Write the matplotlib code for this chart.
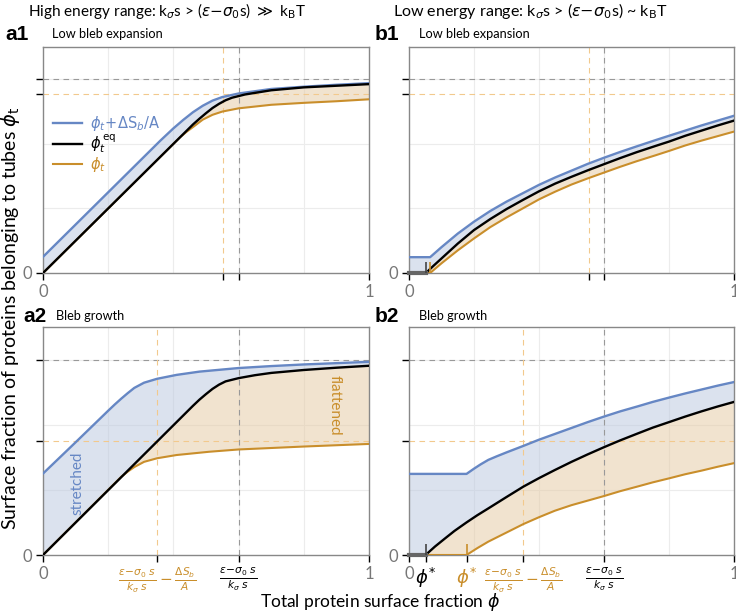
import numpy as np
import matplotlib
matplotlib.use('Agg')
import matplotlib.pyplot as plt

plt.rcParams['font.family'] = ['Lato', 'DejaVu Sans']
plt.rcParams['mathtext.fontset'] = 'dejavusans'

BLUE = '#6687c4'
ORANGE = '#c98e2b'
BLUE_FILL = '#b9c7df'
ORANGE_FILL = '#e5c9a1'
GRAY = '#888888'

# ---- data (x = total fraction phi, y = phi_t) ----
# a1: high energy, low bleb expansion
a1_blue_x = [0, 0.36, 0.40, 0.43, 0.46, 0.49, 0.52, 0.55, 0.60, 0.70, 0.80, 0.90, 1.0]
a1_blue_y = [0.05, 0.41, 0.448, 0.474, 0.498, 0.518, 0.534, 0.545, 0.556, 0.570, 0.577, 0.583, 0.588]
a1_black_x = [0, 0.46, 0.48, 0.50, 0.52, 0.54, 0.56, 0.58, 0.62, 0.70, 0.80, 0.90, 1.0]
a1_black_y = [0, 0.46, 0.478, 0.495, 0.511, 0.524, 0.535, 0.543, 0.553, 0.566, 0.575, 0.580, 0.585]
a1_orange_x = [0, 0.42, 0.44, 0.46, 0.49, 0.52, 0.55, 0.60, 0.70, 0.80, 0.90, 1.0]
a1_orange_y = [0, 0.42, 0.437, 0.452, 0.475, 0.490, 0.500, 0.510, 0.521, 0.527, 0.532, 0.538]

# a2: high energy, bleb growth
a2_blue_x = [0, 0.10, 0.20, 0.22, 0.24, 0.26, 0.28, 0.31, 0.35, 0.41, 0.48, 0.60, 0.70, 0.80, 0.90, 1.0]
a2_blue_y = [0.25, 0.346, 0.443, 0.462, 0.480, 0.497, 0.513, 0.529, 0.541, 0.553, 0.563, 0.574, 0.580, 0.585, 0.589, 0.593]
a2_black_x = [0, 0.46, 0.48, 0.50, 0.52, 0.54, 0.56, 0.60, 0.65, 0.70, 0.80, 0.90, 1.0]
a2_black_y = [0, 0.458, 0.477, 0.494, 0.510, 0.523, 0.533, 0.543, 0.552, 0.559, 0.568, 0.575, 0.581]
a2_orange_x = [0, 0.24, 0.26, 0.28, 0.31, 0.35, 0.41, 0.51, 0.60, 0.80, 1.0]
a2_orange_y = [0, 0.24, 0.256, 0.270, 0.286, 0.297, 0.307, 0.317, 0.324, 0.333, 0.341]

# b1: low energy, low bleb expansion
b1_blue_x = [0, 0.065, 0.10, 0.15, 0.20, 0.25, 0.30, 0.35, 0.40, 0.45, 0.50, 0.55, 0.60, 0.65,
             0.70, 0.76, 0.80, 0.85, 0.90, 0.95, 1.0]
b1_blue_y = [0.049, 0.049, 0.080, 0.122, 0.159, 0.192, 0.221, 0.247, 0.273, 0.296, 0.317, 0.338, 0.357, 0.375,
             0.392, 0.412, 0.425, 0.441, 0.457, 0.472, 0.487]
b1_black_x = [0, 0.052, 0.075, 0.10, 0.125, 0.15, 0.175, 0.20, 0.25, 0.30, 0.35, 0.40, 0.45, 0.50, 0.55,
              0.60, 0.65, 0.70, 0.76, 0.80, 0.85, 0.90, 0.95, 1.0]
b1_black_y = [0, 0, 0.022, 0.045, 0.068, 0.091, 0.112, 0.133, 0.167, 0.198, 0.226, 0.253, 0.277, 0.298, 0.318,
              0.337, 0.356, 0.374, 0.394, 0.407, 0.425, 0.441, 0.457, 0.472]
b1_orange_x = [0, 0.065, 0.10, 0.15, 0.20, 0.25, 0.30, 0.35, 0.40, 0.45, 0.50, 0.55, 0.60, 0.65,
               0.70, 0.76, 0.80, 0.85, 0.90, 0.95, 1.0]
b1_orange_y = [0, 0, 0.030, 0.070, 0.107, 0.142, 0.172, 0.200, 0.228, 0.252, 0.274, 0.293, 0.311, 0.329,
               0.346, 0.365, 0.378, 0.395, 0.410, 0.424, 0.438]

# b2: low energy, bleb growth
b2_blue_x = [0, 0.177, 0.20, 0.22, 0.244, 0.27, 0.30, 0.352, 0.40, 0.45, 0.50, 0.55, 0.60, 0.65, 0.706,
             0.75, 0.803, 0.85, 0.90, 0.95, 1.0]
b2_blue_y = [0.249, 0.249, 0.265, 0.278, 0.292, 0.303, 0.315, 0.335, 0.354, 0.372, 0.390, 0.408, 0.425, 0.441, 0.457,
             0.470, 0.484, 0.496, 0.508, 0.520, 0.531]
b2_black_x = [0, 0.051, 0.08, 0.111, 0.14, 0.177, 0.21, 0.244, 0.30, 0.352, 0.40, 0.449, 0.50, 0.55, 0.60,
              0.65, 0.706, 0.75, 0.803, 0.85, 0.90, 0.95, 1.0]
b2_black_y = [0, 0, 0.026, 0.051, 0.074, 0.100, 0.122, 0.143, 0.178, 0.210, 0.236, 0.261, 0.286, 0.309, 0.331,
              0.352, 0.374, 0.391, 0.409, 0.425, 0.441, 0.456, 0.470]
b2_orange_x = [0, 0.177, 0.21, 0.244, 0.30, 0.352, 0.40, 0.449, 0.50, 0.55, 0.60, 0.65, 0.706, 0.75, 0.803,
               0.85, 0.90, 0.95, 1.0]
b2_orange_y = [0, 0, 0.021, 0.041, 0.069, 0.095, 0.116, 0.136, 0.153, 0.167, 0.181, 0.196, 0.211, 0.223, 0.236,
               0.248, 0.259, 0.271, 0.282]

# reference levels: black = (eps - sigma0 s)/(k s), orange = black - dS_b/A
ref_black = 0.60
ref_orange_low = 0.553
ref_orange_growth = 0.351
# phi* thresholds in b panels (black, orange)
b1_phistar = (0.052, 0.065)
b2_phistar = (0.051, 0.177)

grid_pos = [0.2, 0.4, 0.6, 0.8]

frac_orange = r'$\frac{\epsilon\!-\!\sigma_0\ s}{k_\sigma\ s}-\frac{\Delta S_b}{A}$'
frac_black = r'$\frac{\epsilon\!-\!\sigma_0\ s}{k_\sigma\ s}$'

fig = plt.figure(figsize=(7.36, 6.15), dpi=100)
W, H = 736, 615


def make_ax(left, top, right, bottom):
    return fig.add_axes([left / W, 1 - bottom / H, (right - left) / W, (bottom - top) / H])


def draw(ax, bx, by, kx, ky, ox, oy, ref_o, phistar=None, xlabels=None):
    ax.set_xlim(0, 1)
    ax.set_ylim(0, 0.7)
    for g in grid_pos:
        ax.axvline(g, color='#ececec', lw=0.8, zorder=0.5)
        ax.axhline(g, color='#ececec', lw=0.8, zorder=0.5)

    # shaded regions
    ax.fill(np.r_[bx, kx[::-1]], np.r_[by, ky[::-1]], color=BLUE_FILL, alpha=0.5, lw=0, zorder=1)
    ax.fill(np.r_[kx, ox[::-1]], np.r_[ky, oy[::-1]], color=ORANGE_FILL, alpha=0.5, lw=0, zorder=1)

    # reference dashed lines
    ax.axvline(ref_black, color='#999999', lw=0.8, ls=(0, (5, 4)), zorder=1.5)
    ax.axhline(ref_black, color='#999999', lw=0.8, ls=(0, (5, 4)), zorder=1.5)
    ax.axvline(ref_o, color='#f2c98d', lw=0.8, ls=(0, (5, 4)), zorder=1.5)
    ax.axhline(ref_o, color='#f2c98d', lw=0.8, ls=(0, (5, 4)), zorder=1.5)

    ax.plot(bx, by, color=BLUE, lw=1.7, zorder=3, label=r'$\phi_t\!+\!\Delta\mathrm{S}_b/\mathrm{A}$')
    ax.plot(kx, ky, color='black', lw=1.7, zorder=3.2, label=r'$\phi_t^{\,\mathrm{eq}}$')
    ax.plot(ox, oy, color=ORANGE, lw=1.5, zorder=3.1, label=r'$\phi_t$')

    if phistar is not None:
        ax.plot([0, phistar[0]], [0, 0], color='#666666', lw=3, zorder=3.5, clip_on=False)
        ax.vlines(phistar[0], 0, 0.035, color='#444444', lw=1.2, zorder=3.6)
        ax.vlines(phistar[1], 0, 0.035, color=ORANGE, lw=1.2, zorder=3.6)

    for s in ax.spines.values():
        s.set_color(GRAY)
        s.set_linewidth(1.0)

    # x ticks
    xt = [0, ref_o, ref_black, 1]
    xl = ['0', '', '', '1']
    xc = ['none', ORANGE, 'black', 'none']
    lc = ['#777777', ORANGE, 'black', '#777777']
    if xlabels is not None:
        xl = ['0', xlabels[0], xlabels[1], '1']
    if phistar is not None and xlabels is not None:
        xt = [0, phistar[0], phistar[1]] + xt[1:]
        xl = ['0', r'$\phi^{*}$', r'$\phi^{*}$'] + xl[1:]
        xc = ['none', 'none', 'none'] + xc[1:]
        lc = ['#777777', 'black', ORANGE] + lc[1:]
    ax.set_xticks(xt)
    ax.set_xticklabels(xl)
    ax.tick_params(axis='x', direction='out', length=5, width=1, pad=3, labelsize=12)
    for t, c, l in zip(ax.xaxis.get_major_ticks(), xc, lc):
        t.tick1line.set_color(c)
        t.label1.set_color(l)
        if t.label1.get_text().startswith(r'$\frac'):
            t.label1.set_fontsize(11)
        if t.label1.get_text().startswith(r'$\phi'):
            t.label1.set_fontsize(13)

    # y ticks
    ax.set_yticks([0, ref_o, ref_black])
    ax.set_yticklabels(['0', '', ''])
    ax.tick_params(axis='y', direction='out', length=5, width=1, pad=3, labelsize=12)
    for t, c in zip(ax.yaxis.get_major_ticks(), ['none', ORANGE, 'black']):
        t.tick1line.set_color(c)
        t.label1.set_color('#777777')


ax_a1 = make_ax(43, 47, 369, 273)
ax_b1 = make_ax(409, 47, 734, 273)
ax_a2 = make_ax(43, 327, 369, 555)
ax_b2 = make_ax(409, 327, 734, 555)

draw(ax_a1, a1_blue_x, a1_blue_y, a1_black_x, a1_black_y, a1_orange_x, a1_orange_y, ref_orange_low)
draw(ax_b1, b1_blue_x, b1_blue_y, b1_black_x, b1_black_y, b1_orange_x, b1_orange_y, ref_orange_low,
     phistar=b1_phistar)
draw(ax_a2, a2_blue_x, a2_blue_y, a2_black_x, a2_black_y, a2_orange_x, a2_orange_y, ref_orange_growth,
     xlabels=(frac_orange, frac_black))
draw(ax_b2, b2_blue_x, b2_blue_y, b2_black_x, b2_black_y, b2_orange_x, b2_orange_y, ref_orange_growth,
     phistar=b2_phistar, xlabels=(frac_orange, frac_black))

leg = ax_a1.legend(loc='upper left', bbox_to_anchor=(0.0, 0.75), frameon=False, fontsize=10.5,
                   handlelength=2.0, handletextpad=0.5, labelspacing=0.0, borderpad=0.2,
                   labelcolor='linecolor')

ax_a2.text(0.105, 0.22, 'stretched', color=BLUE, rotation=90, ha='center', va='center', fontsize=11)
ax_a2.text(0.895, 0.46, 'flattened', color=ORANGE, rotation=270, ha='center', va='center', fontsize=11)

# headers and panel titles
fig.text(28 / W, 1 - 11 / H, r'High energy range: k$_\sigma$s > ($\epsilon$$-$$\sigma_0$s) $\gg$ k$_\mathrm{B}$T',
         fontsize=11, va='center')
fig.text(393 / W, 1 - 11 / H, r'Low energy range: k$_\sigma$s > ($\epsilon$$-$$\sigma_0$s) ~ k$_\mathrm{B}$T',
         fontsize=11.5, va='center')
for lx, tx, ly, letter, title in [(5, 52, 34, 'a1', 'Low bleb expansion'),
                                  (375, 419, 34, 'b1', 'Low bleb expansion'),
                                  (23, 56, 316, 'a2', 'Bleb growth'),
                                  (375, 419, 316, 'b2', 'Bleb growth')]:
    fig.text(lx / W, 1 - ly / H, letter, fontsize=15, fontweight='bold', va='center',
             family='Liberation Sans')
    fig.text(tx / W, 1 - ly / H, title, fontsize=9.2, va='center')

fig.text(11 / W, 1 - 318 / H, r'Surface fraction of proteins belonging to tubes $\phi_{\mathrm{t}}$',
         rotation=90, ha='center', va='center', fontsize=14)
fig.text(380 / W, 1 - 602 / H, r'Total protein surface fraction $\phi$', ha='center', va='center',
         fontsize=12.5)

fig.savefig('out.png', dpi=100)
